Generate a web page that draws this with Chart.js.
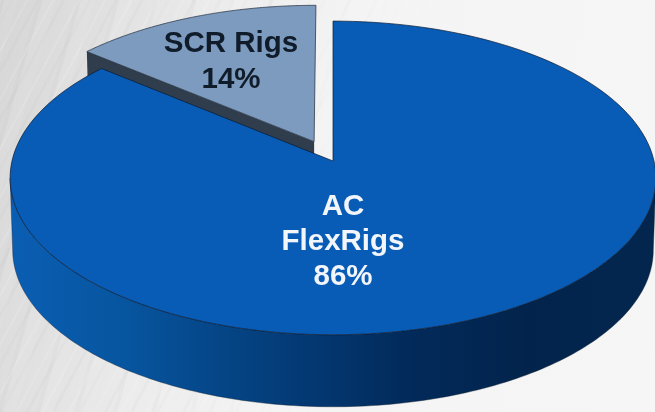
<!DOCTYPE html>
<html>
<head>
<meta charset="utf-8">
<script src="https://cdn.jsdelivr.net/npm/chart.js@4/dist/chart.umd.js"></script>
<style>
html, body { margin: 0; padding: 0; }
#wrap {
    position: relative;
    width: 655px;
    height: 412px;
    overflow: hidden;
    background: linear-gradient(102deg, #d6d6d6 0%, #e0e0e0 14%, #ececec 30%, #f4f4f4 48%, #f6f6f6 100%);
}
#streaks {
    position: absolute;
    left: 0;
    top: 0;
    width: 655px;
    height: 412px;
    background:
        repeating-linear-gradient(118deg, rgba(255,255,255,0.12) 0 2px, rgba(255,255,255,0) 2px 9px, rgba(120,120,120,0.03) 9px 12px, rgba(255,255,255,0) 12px 23px),
        repeating-linear-gradient(106deg, rgba(150,150,150,0.04) 0 4px, rgba(255,255,255,0.07) 4px 17px, rgba(255,255,255,0) 17px 37px);
    -webkit-mask-image: linear-gradient(100deg, #000 0%, #000 30%, transparent 62%);
    mask-image: linear-gradient(100deg, #000 0%, #000 30%, transparent 62%);
}
canvas { position: absolute; left: 0; top: 0; display: block; filter: blur(0.5px); }
</style>
</head>
<body>
<div id="wrap"><div id="streaks"></div><canvas id="rigChart" width="655" height="412"></canvas></div>
<script>
const categories = ['AC FlexRigs', 'SCR Rigs'];
const rigShare = [86, 14];
const sliceColors = ['#085cb6', '#7c9bbf'];
const labelLines = [['AC', 'FlexRigs'], ['SCR Rigs']];

// perspective of the disc, fitted to the reference
const CX = 333, CY = 161, HALF_W = 321, HALF_H = 155, TILT = 0.108;
const DEPTH = 72;
const EXPLODE = 0.14;

function project(u, v, dropped) {
    const w = 1 + TILT * v;
    const k = dropped ? 0.992 : 1;
    return {
        x: CX + HALF_W * k * u / w,
        y: CY - HALF_H * v / w + (dropped ? DEPTH : 0)
    };
}

function rimPoints(from, to, ox, oy, dropped) {
    const pts = [];
    const steps = 160;
    for (let i = 0; i <= steps; i++) {
        const t = from + (to - from) * i / steps;
        pts.push(project(Math.cos(t) + ox, -Math.sin(t) + oy, dropped));
    }
    return pts;
}

function tracePath(ctx, pts) {
    ctx.beginPath();
    pts.forEach((p, i) => i ? ctx.lineTo(p.x, p.y) : ctx.moveTo(p.x, p.y));
    ctx.closePath();
}

function sliceOffset(arc) {
    const mid = (arc.startAngle + arc.endAngle) / 2;
    return { ox: Math.cos(mid) * EXPLODE, oy: -Math.sin(mid) * EXPLODE };
}

const perspectivePie = {
    id: 'perspectivePie',
    beforeDatasetsDraw(chart) {
        const ctx = chart.ctx;
        const arcs = chart.getDatasetMeta(0).data;
        const big = arcs[0], small = arcs[1];
        ctx.save();
        ctx.lineJoin = 'round';

        // exploded slice: cut face, then its top
        const off = sliceOffset(small);
        const apex = project(off.ox, off.oy, false);
        const apexLow = project(off.ox, off.oy, true);
        const rim = project(Math.cos(small.startAngle) + off.ox, -Math.sin(small.startAngle) + off.oy, false);
        const rimLow = project(Math.cos(small.startAngle) + off.ox, -Math.sin(small.startAngle) + off.oy, true);
        tracePath(ctx, [apex, rim, rimLow, apexLow]);
        ctx.fillStyle = '#2f3d4c';
        ctx.fill();

        tracePath(ctx, [apex].concat(rimPoints(small.startAngle, small.endAngle, off.ox, off.oy, false)));
        ctx.fillStyle = small.options.backgroundColor;
        ctx.fill();
        ctx.strokeStyle = 'rgba(30,40,55,0.7)';
        ctx.lineWidth = 1;
        ctx.stroke();

        // front wall of the big slice
        const t1 = Math.asin(TILT), t2 = Math.PI - Math.asin(TILT);
        const wall = rimPoints(t1, t2, 0, 0, false).concat(rimPoints(t1, t2, 0, 0, true).reverse());
        const grad = ctx.createLinearGradient(10, 0, 655, 0);
        grad.addColorStop(0, '#0a5eb3');
        grad.addColorStop(0.18, '#07559f');
        grad.addColorStop(0.33, '#054586');
        grad.addColorStop(0.48, '#033770');
        grad.addColorStop(0.62, '#022a5a');
        grad.addColorStop(0.8, '#02244c');
        grad.addColorStop(1, '#03264f');
        tracePath(ctx, wall);
        ctx.fillStyle = grad;
        ctx.fill();
        ctx.strokeStyle = 'rgba(20,30,45,0.4)';
        ctx.stroke();

        // top of the big slice
        tracePath(ctx, [project(0, 0, false)].concat(rimPoints(big.startAngle, big.endAngle, 0, 0, false)));
        ctx.fillStyle = big.options.backgroundColor;
        ctx.fill();
        ctx.strokeStyle = 'rgba(10,25,50,0.7)';
        ctx.stroke();

        ctx.restore();
        return false; // the library's flat arcs are replaced by the tilted ones
    },
    afterDraw(chart) {
        const ctx = chart.ctx;
        ctx.save();
        ctx.font = 'bold 29.5px "Liberation Sans", Arial, sans-serif';
        ctx.textAlign = 'center';
        ctx.textBaseline = 'alphabetic';

        ctx.fillStyle = '#f2f5fa';
        ctx.fillText(labelLines[0][0], 343, 215);
        ctx.fillText(labelLines[0][1], 343, 250);
        ctx.fillText(rigShare[0] + '%', 343, 285);

        ctx.fillStyle = '#101c2a';
        ctx.fillText(labelLines[1][0], 231, 52);
        ctx.fillText(rigShare[1] + '%', 231, 88);
        ctx.restore();
    }
};

new Chart(document.getElementById('rigChart').getContext('2d'), {
    type: 'pie',
    data: {
        labels: categories,
        datasets: [{
            data: rigShare,
            backgroundColor: sliceColors,
            borderWidth: 0
        }]
    },
    options: {
        responsive: false,
        animation: false,
        plugins: {
            legend: { display: false },
            tooltip: { enabled: false }
        }
    },
    plugins: [perspectivePie]
});
</script>
</body>
</html>
